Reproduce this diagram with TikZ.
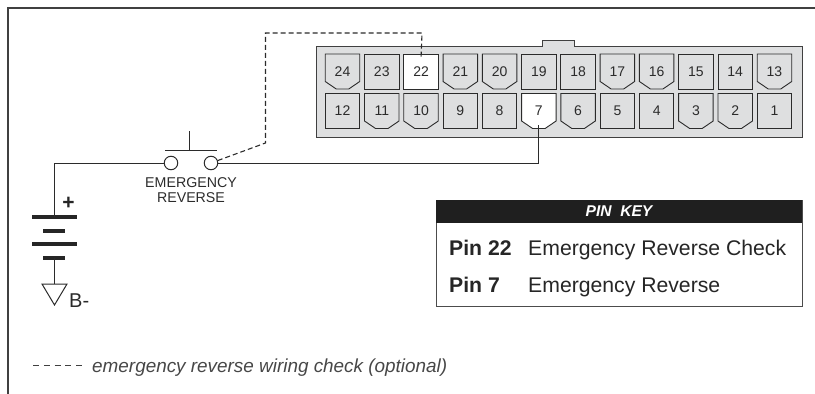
\documentclass[tikz,border=0pt]{standalone}
\usepackage{fontspec}
\setmainfont{Liberation Sans}
\definecolor{pinfill}{HTML}{DEDFE0}
\definecolor{inkgray}{HTML}{2B2B2B}
\tikzset{
    wire/.style={line width=1pt, draw=inkgray},
    dashwire/.style={line width=1.1pt, draw=inkgray, dash pattern=on 5pt off 3pt},
    pinlabel/.style={rectangle, minimum width=34.5pt, minimum height=35pt, inner sep=0pt, font=\fontsize{14}{15}\selectfont, text=inkgray},
    pinplain/.style={pinlabel, draw=inkgray, line width=0.9pt, fill=pinfill},
    pincut/.style={draw=inkgray, line width=0.9pt, fill=pinfill},
    plate/.style={line width=3.4pt, draw=black!85},
    keytext/.style={anchor=base west, inner sep=0pt, text=black!85, font=\fontsize{21.2}{23}\selectfont},
    keybold/.style={keytext, font=\bfseries\fontsize{21.2}{23}\selectfont}
}
% outline of a pin with its two lower corners cut off
\newcommand{\cutoutline}{++(-17.25,-17.5) -- ++(34.5,0) -- ++(0,27.5) -- ++(-11,7.5) -- ++(-12.5,0) -- ++(-11,-7.5) -- cycle}
\begin{document}
\begin{tikzpicture}[x=1pt, y=-1pt]

    \useasboundingbox (0,0) rectangle (815,394);

    % Frame
    \coordinate (framestart) at (8,394);
    \coordinate (framecorner) at (8,8);
    \coordinate (frameend) at (815,8);
    \draw[line width=1.2pt, draw=black!75] (framestart) -- (framecorner) -- (frameend);

    % Connector housing
    \draw[line width=0.9pt, draw=black!75, fill=pinfill]
        (316,46) -- (542,46) -- (542,40) -- (574,40) -- (574,46) -- (802,46) -- (802,137) -- (316,137) -- cycle;

    % Pins, top row
    \foreach \n/\i in {23/1,19/5,18/6,15/9,14/10} {
        \node[pinplain] (pin\n) at ({342.5+39.27*\i},71.5) {\n};
    }
    \foreach \n/\i in {24/0,21/3,20/4,17/7,16/8,13/11} {
        \draw[pincut] ({342.5+39.27*\i},71.5) \cutoutline;
        \node[pinlabel] (pin\n) at ({342.5+39.27*\i},71.5) {\n};
    }
    \node[pinplain, fill=white] (pin22) at ({342.5+39.27*2},71.5) {22};

    % Pins, bottom row
    \foreach \n/\i in {12/0,9/3,8/4,5/7,4/8,1/11} {
        \node[pinplain] (pin\n) at ({342.5+39.27*\i},111) {\n};
    }
    \foreach \n/\i in {11/1,10/2,6/6,3/9,2/10} {
        \draw[pincut] ({342.5+39.27*\i},111) \cutoutline;
        \node[pinlabel] (pin\n) at ({342.5+39.27*\i},111) {\n};
    }
    \draw[pincut, fill=white] ({342.5+39.27*5},111) \cutoutline;
    \node[pinlabel] (pin7) at ({342.5+39.27*5},111) {7};

    % Switch
    \node[circle, draw=inkgray, line width=1pt, minimum size=13.5pt, inner sep=0pt] (swleft) at (171,163) {};
    \node[circle, draw=inkgray, line width=1pt, minimum size=13.5pt, inner sep=0pt] (swright) at (211,163) {};
    \coordinate (barleft) at (165,150);
    \coordinate (barright) at (217,150);
    \coordinate (barmid) at (189,150);
    \coordinate (bartop) at (189,131);
    \draw[wire] (barleft) -- (barright);
    \draw[wire] (barmid) -- (bartop);
    \node[align=center, inner sep=0pt, text=inkgray, font=\fontsize{14.2}{15}\selectfont] (swlabel) at (191,190.5) {EMERGENCY\\REVERSE};

    % Battery
    \coordinate (batA) at (54,217);
    \coordinate (batB) at (54,258);
    \coordinate (gndtop) at (54,284);
    \draw[plate] (32,217) -- (77,217);
    \draw[plate] (43,231) -- (65,231);
    \draw[plate] (32,244) -- (77,244);
    \draw[plate] (43,258) -- (65,258);
    \node[inner sep=0pt, text=black!85, font=\bfseries\fontsize{21}{22}\selectfont] (plus) at (68.5,203) {+};

    % Ground
    \draw[wire, line join=miter] (42,284) -- (67,284) -- (54.5,305) -- cycle;
    \node[anchor=base west, inner sep=0pt, text=inkgray, font=\fontsize{20}{21}\selectfont] (gndlabel) at (69,307) {B-};

    % Wires
    \draw[wire] (swleft.west) -| (batA);
    \draw[wire] (batB) -- (gndtop);
    \draw[wire] (swright.east) -| ([yshift=4pt]pin7.south);
    \coordinate (dashA) at (265.5,143);
    \coordinate (dashB) at (265.5,33);
    \coordinate (dashC) at (422,33);
    \draw[dashwire] (swright.20) -- (dashA) -- (dashB) -- (dashC) -- ([yshift=-5pt]pin22.north);

    % Pin key
    \node[draw=black!70, line width=1pt, fill=white, minimum width=366pt, minimum height=106pt, inner sep=0pt] (keybox) at (619,253) {};
    \node[fill=black!88, minimum width=366pt, minimum height=23pt, inner sep=0pt, text=white, font=\bfseries\itshape\fontsize{15.6}{16}\selectfont] (keyhead) at (619,211.5) {PIN\ \ KEY};
    \node[keybold] (keyA) at (449,255) {Pin 22};
    \node[keytext] (keyAtext) at (528,255) {Emergency Reverse Check};
    \node[keybold] (keyB) at (449,292) {Pin 7};
    \node[keytext] (keyBtext) at (528,292) {Emergency Reverse};

    % Legend
    \coordinate (legstart) at (33,365);
    \coordinate (legend) at (82,365);
    \draw[line width=0.8pt, draw=black!75, dash pattern=on 6pt off 4.75pt] (legstart) -- (legend);
    \node[anchor=base west, inner sep=0pt, text=black!72, font=\itshape\fontsize{18.9}{20}\selectfont] (legtext) at (92,372) {emergency reverse wiring check (optional)};

\end{tikzpicture}
\end{document}
